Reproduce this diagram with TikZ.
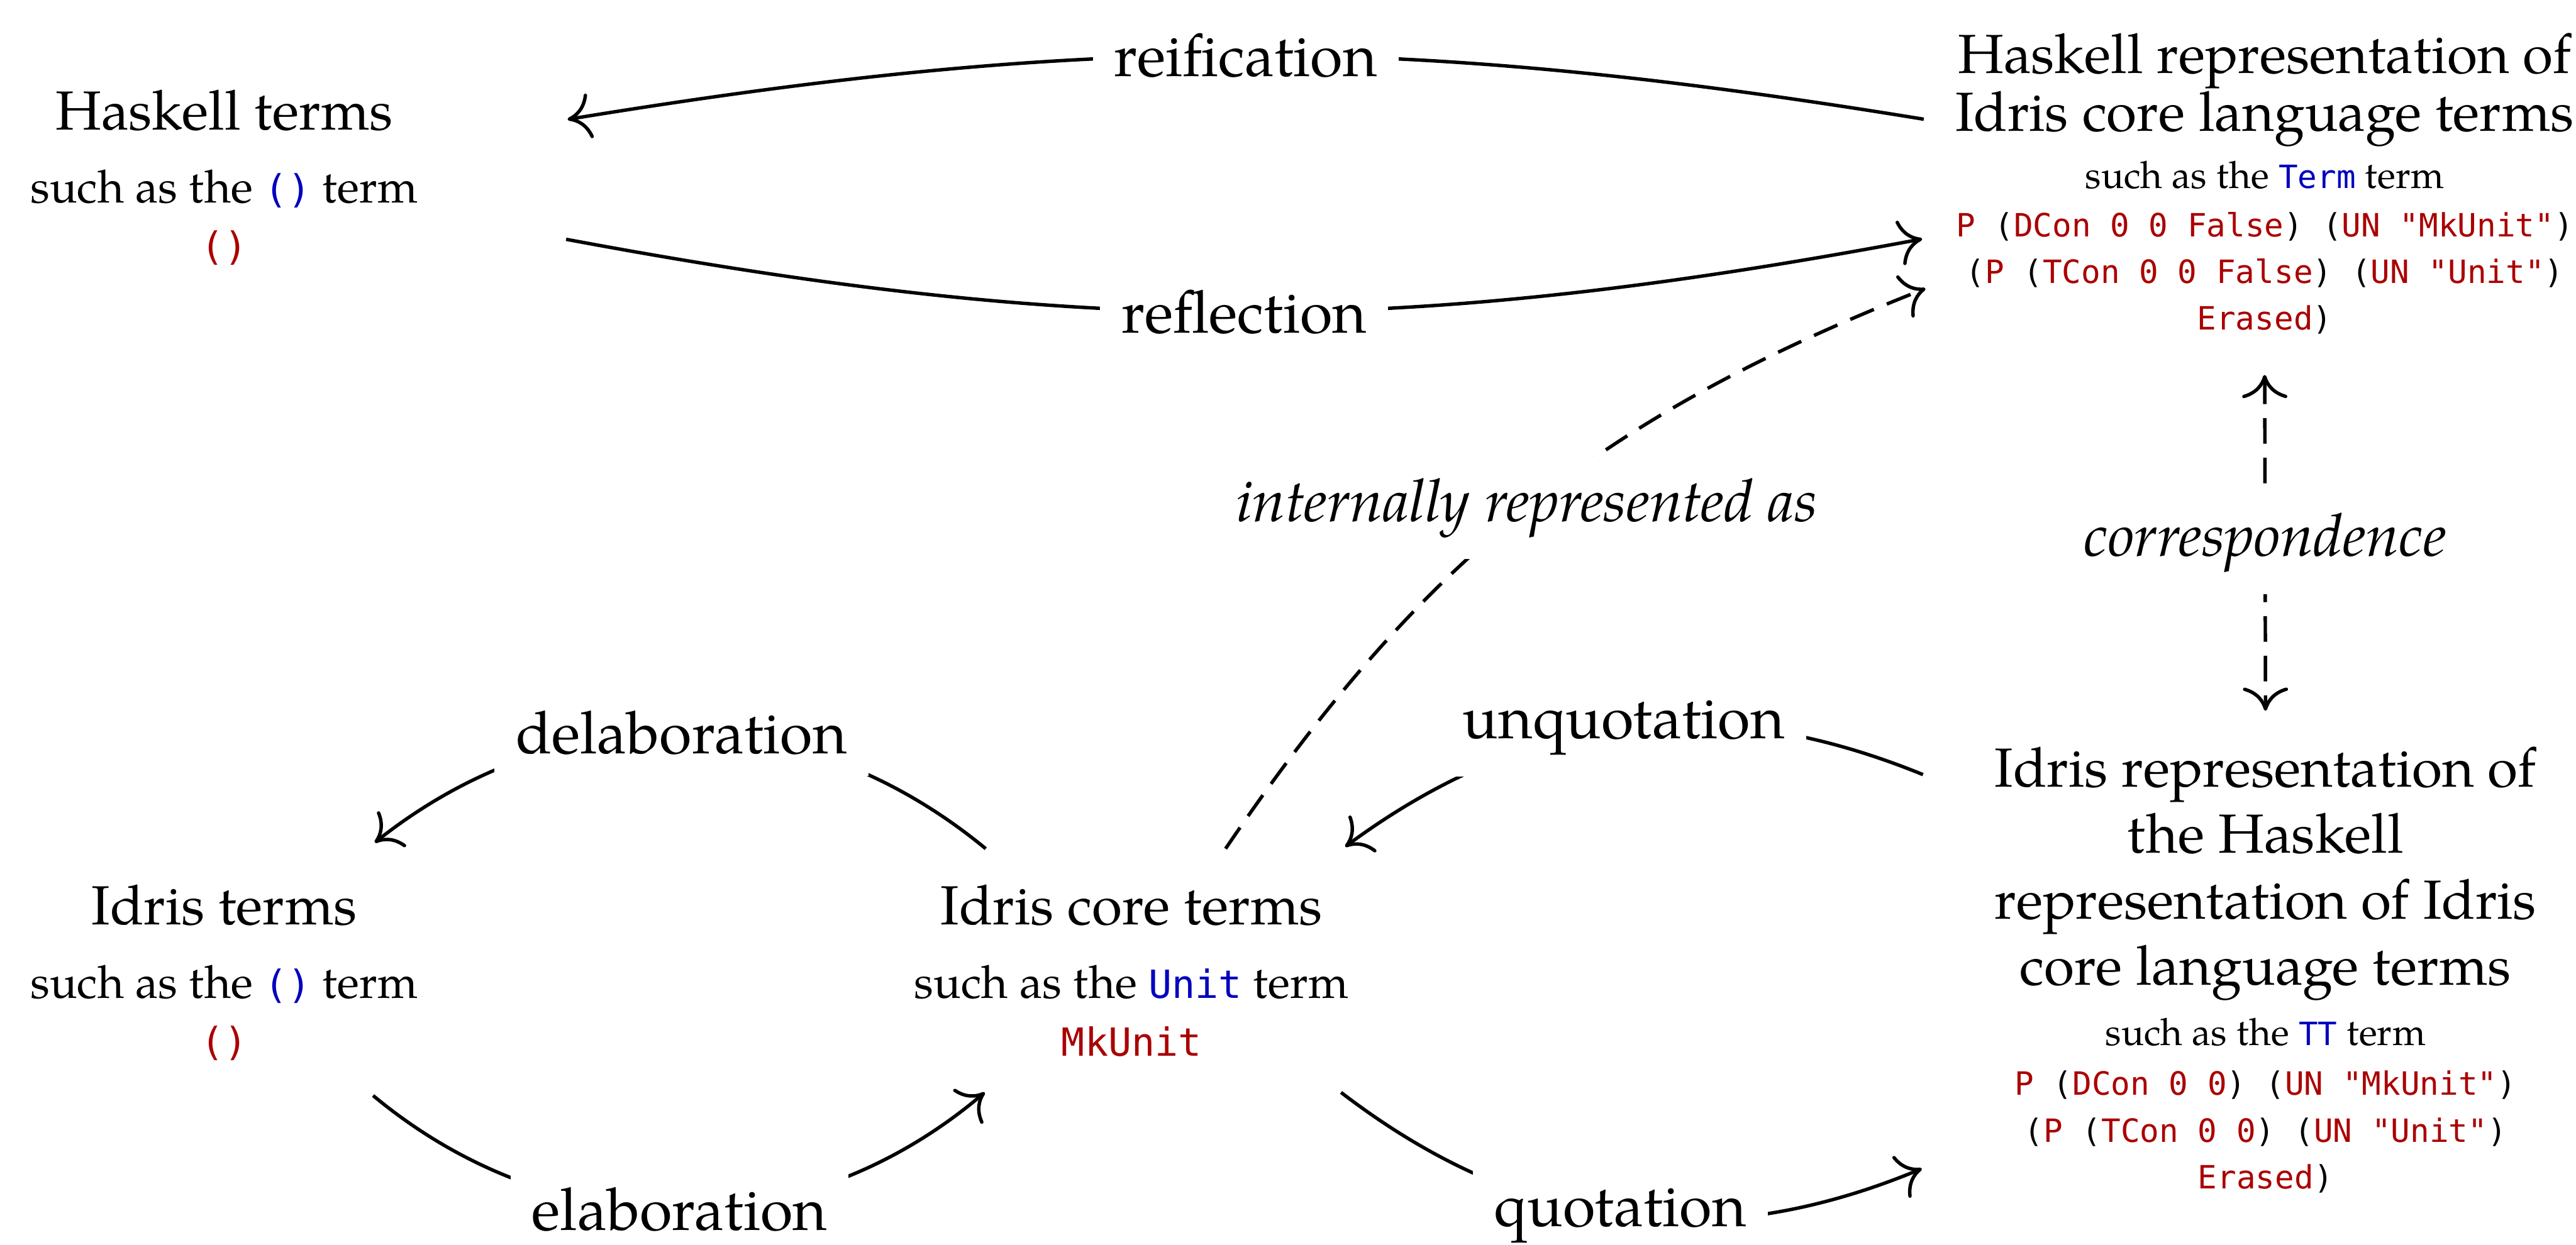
\documentclass[tikz,border=0pt]{standalone}
\usepackage{fontspec}
\usepackage{xcolor}
\usetikzlibrary{arrows.meta,calc}

\IfFontExistsTF{texgyrepagella-regular.otf}{%
  \setmainfont{texgyrepagella}[Extension=.otf, UprightFont=*-regular,
    ItalicFont=*-italic, BoldFont=*-bold, BoldItalicFont=*-bolditalic]}{%
  \setmainfont{Liberation Serif}}
% monospaced font: Inconsolata if it is there, else DejaVu Sans Mono
\IfFontExistsTF{Inconsolatazi4-Regular.otf}{%
  \setmonofont{Inconsolatazi4}[Extension=.otf, UprightFont=*-Regular,
    BoldFont=*-Bold]}{%
  \setmonofont{DejaVu Sans Mono}[Scale=0.85]}

\definecolor{hsred}{RGB}{170,0,0}
\definecolor{hsblue}{RGB}{0,0,190}
% red constructor names, blue type names
\newcommand{\rd}[1]{\textcolor{hsred}{#1}}
\newcommand{\valtt}[1]{\textcolor{hsred}{\texttt{#1}}}
\newcommand{\typtt}[1]{\textcolor{hsblue}{\texttt{#1}}}

\begin{document}
\begin{tikzpicture}[x=0.02695cm, y=0.02695cm, line width=1.6pt,
    >={Computer Modern Rightarrow[length=0.38cm, width=0.74cm]},
    termtitle/.style={font=\fontsize{25.7}{30.8}\selectfont, inner sep=0pt, align=center},
    termex/.style={font=\fontsize{21.3}{25}\selectfont, inner sep=0pt},
    repex/.style={font=\fontsize{17.6}{21.8}\selectfont, inner sep=0pt, align=center},
    repcode/.style={repex, font=\fontsize{17.6}{21.8}\selectfont\ttfamily},
    edgelbl/.style={fill=white, inner sep=0.35cm, font=\fontsize{27.6}{33}\selectfont},
    emlbl/.style={edgelbl, font=\fontsize{27.6}{33}\selectfont\itshape},
    dashline/.style={dash pattern=on 0.42cm off 0.23cm}]
  \useasboundingbox (0,0) rectangle (1568,757.7);

  % Haskell terms
  \node[termtitle, anchor=base] (hs) at (136.5,678.8) {Haskell terms};
  \node[termex, anchor=base] (hsex) at (136.5,634.3) {such as the \typtt{()} term};
  \node[termex, anchor=base] (hsval) at (136.5,599.3) {\valtt{()}};

  % Haskell representation of Idris core terms
  \node[termtitle, font=\fontsize{25.7}{25.3}\selectfont, anchor=north] (hsrep) at (1378.5,738.4) {Haskell representation of\\Idris core language terms};
  \node[repex, anchor=base] (hsrepex) at (1378.5,643) {such as the \typtt{Term} term};
  \node[repcode, anchor=north] (hsrepval) at (1378.5,629.7)
    {\rd{P} (\rd{DCon 0 0 False}) (\rd{UN "MkUnit"})\\(\rd{P} (\rd{TCon 0 0 False}) (\rd{UN "Unit"})\\\rd{Erased})};

  % Idris terms
  \node[termtitle, anchor=base] (idris) at (136.5,194.6) {Idris terms};
  \node[termex, anchor=base] (idrisex) at (136.5,150.1) {such as the \typtt{()} term};
  \node[termex, anchor=base] (idrisval) at (136.5,115.1) {\valtt{()}};

  % Idris core terms
  \node[termtitle, anchor=base] (core) at (688.8,194.6) {Idris core terms};
  \node[termex, anchor=base] (coreex) at (688.8,150.1) {such as the \typtt{Unit} term};
  \node[termex, anchor=base] (coreval) at (688.8,114.8) {\valtt{MkUnit}};

  % Idris representation of the Haskell representation
  \node[termtitle, anchor=north] (idrep) at (1379,304) {Idris representation of\\the Haskell\\representation of Idris\\core language terms};
  \node[repex, anchor=base] (idrepex) at (1379,121.2) {such as the \typtt{TT} term};
  \node[repcode, anchor=north] (idrepval) at (1379,106.7)
    {\rd{P} (\rd{DCon 0 0}) (\rd{UN "MkUnit"})\\(\rd{P} (\rd{TCon 0 0}) (\rd{UN "Unit"})\\\rd{Erased})};

  % arrows
  \draw[->] ($(hsrep.north)+(-207.5,-53.3)$) to[bend right=9.3] node[edgelbl] {reification} ($(hs.base)+(209,6.2)$);
  \draw[->] ($(hs.base)+(208.1,-66.8)$) to[bend right=10.6] node[edgelbl] {reflection} ($(hsrep.north)+(-208.5,-126.2)$);
  \draw[->, dashline] ($(core.base)+(57.2,46.4)$) to[bend left=17.2] node[emlbl] {internally represented as} ($(hsrep.north)+(-206.5,-156.4)$);
  \draw[<->, dashline] ($(hsrepval.north)+(0,-100.3)$) -- node[emlbl] {correspondence} ($(idrep.north)+(0,21)$);
  \draw[->] ($(core.base)+(-88.8,46.4)$) to[bend right=39] node[edgelbl] {delaboration} ($(idris.base)+(91.6,50.1)$);
  \draw[->] ($(idris.base)+(90.6,-103.9)$) to[bend right=40] node[edgelbl] {elaboration} ($(core.base)+(-89.4,-102)$);
  \draw[->] ($(idrep.north)+(-208.5,-17.9)$) to[bend right=29.3] node[edgelbl] {unquotation} ($(core.base)+(130,47.6)$);
  \draw[->] ($(core.base)+(127.5,-102)$) to[bend right=30] node[edgelbl] {quotation} ($(idrep.north)+(-209.2,-257.8)$);
\end{tikzpicture}
\end{document}
